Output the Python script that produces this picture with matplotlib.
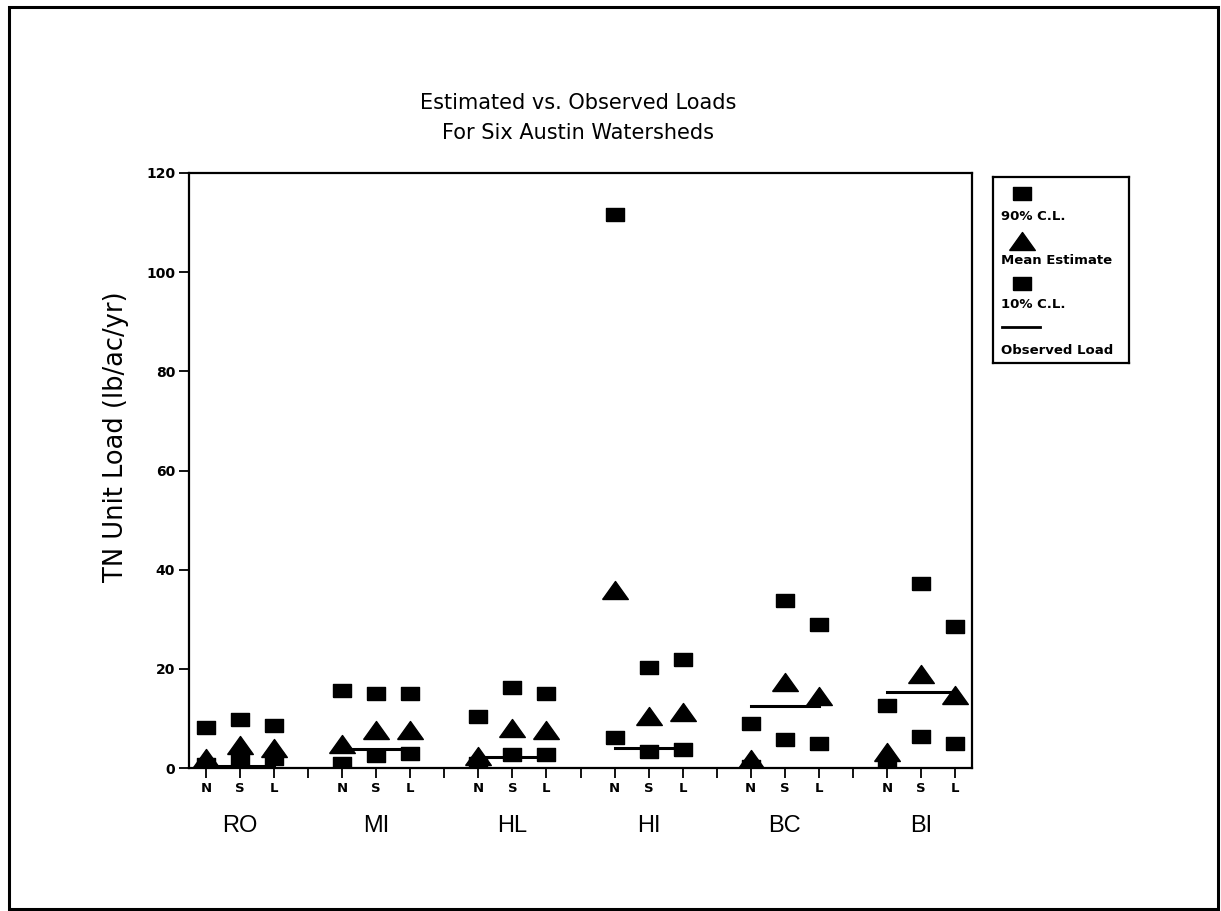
import matplotlib.pyplot as plt
import numpy as np
from matplotlib.patches import Rectangle

# watersheds and the three estimate methods
sites = ["RO", "MI", "HL", "HI", "BC", "BI"]
methods = ["N", "S", "L"]

# TN unit loads (lb/ac/yr), one row per site, columns N S L
cl90 = [[8.3, 9.9, 8.7],
        [15.7, 15.1, 15.1],
        [10.5, 16.3, 15.1],
        [111.7, 20.4, 22.0],
        [9.1, 33.9, 29.0],
        [12.7, 37.3, 28.6]]
mean_est = [[2.0, 4.6, 4.0],
            [4.8, 7.6, 7.6],
            [2.5, 8.0, 7.6],
            [35.8, 10.4, 11.2],
            [1.8, 17.4, 14.6],
            [3.2, 19.0, 14.8]]
cl10 = [[0.8, 1.6, 2.0],
        [1.0, 2.6, 3.0],
        [1.0, 2.8, 2.8],
        [6.3, 3.5, 3.8],
        [0.5, 5.9, 5.0],
        [0.3, 6.4, 5.0]]
observed = [0.5, 3.8, 2.3, 4.0, 12.5, 15.3]

yticks = [0, 20, 40, 60, 80, 100, 120]

# flattened marker shapes
sq = [(-1, -0.72), (1, -0.72), (1, 0.72), (-1, 0.72), (-1, -0.72)]
tri = [(-1, -0.7), (1, -0.7), (0, 0.7), (-1, -0.7)]

fig = plt.figure(figsize=(12.21, 9.11), dpi=100)
fig.patches.append(Rectangle((9/1221, 2/911), 1209/1221, 902/911, transform=fig.transFigure,
                             fill=False, lw=2.2, ec="black"))

ax = fig.add_axes([189/1221, 143/911, 783/1221, 595/911])

for i, s in enumerate(sites):
    xs = np.arange(3) + 1 + 4*i
    ax.plot([xs[0], xs[-1]], [observed[i]]*2, color="black", lw=2.2, zorder=2)
    ax.plot(xs, cl90[i], ls="none", marker=sq, ms=13, color="black", zorder=3)
    ax.plot(xs, cl10[i], ls="none", marker=sq, ms=13, color="black", zorder=3)
    ax.plot(xs, mean_est[i], ls="none", marker=tri, ms=18.5, color="black", zorder=4)
    ax.text(xs[1], -11.6, s, ha="center", va="center", fontsize=17,
            family="Liberation Sans")

ax.set_xlim(0.5, 23.5)
ax.set_ylim(0, 120)
ax.set_xticks(np.arange(1, 24))
ax.set_xticklabels([methods[(k-1) % 4] if (k % 4) else "" for k in range(1, 24)],
                   fontsize=9.5, fontweight="bold")
ax.set_yticks(yticks)
ax.set_yticklabels([str(v) for v in yticks], fontsize=10, fontweight="bold")
ax.tick_params(direction="out", length=7, width=1.3, pad=3)
for sp in ax.spines.values():
    sp.set_linewidth(1.6)

ax.set_ylabel("TN Unit Load (lb/ac/yr)", fontsize=18.5)
ax.yaxis.set_label_coords(-0.076, 0.556)

fig.text(578/1221, 1 - 103/911, "Estimated vs. Observed Loads", ha="center", va="center",
         fontsize=15)
fig.text(578/1221, 1 - 133/911, "For Six Austin Watersheds", ha="center", va="center",
         fontsize=15)

# legend panel
lg = fig.add_axes([993/1221, 1 - 363/911, 136/1221, 186/911])
lg.set_xlim(993, 1129)
lg.set_ylim(363, 177)
lg.set_xticks([])
lg.set_yticks([])
for sp in lg.spines.values():
    sp.set_linewidth(1.6)
lg.plot([1022], [193], marker=sq, ms=13, color="black", ls="none")
lg.text(1001, 217, "90% C.L.", fontsize=9.5, fontweight="bold", va="center")
lg.plot([1022], [241], marker=tri, ms=18.5, color="black", ls="none")
lg.text(1001, 260, "Mean Estimate", fontsize=9.5, fontweight="bold", va="center")
lg.plot([1022], [283], marker=sq, ms=13, color="black", ls="none")
lg.text(1001, 305, "10% C.L.", fontsize=9.5, fontweight="bold", va="center")
lg.plot([1002, 1040], [327, 327], color="black", lw=2)
lg.text(1001, 350, "Observed Load", fontsize=9.5, fontweight="bold", va="center")

fig.savefig("out.png", dpi=100)
